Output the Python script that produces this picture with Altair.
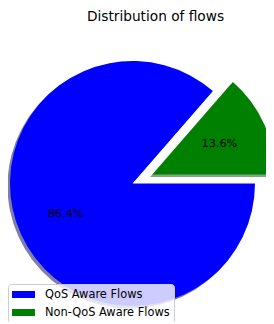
import math
import altair as alt
import pandas as pd

# ---- data ----
categories = ["QoS Aware Flows", "Non-QoS Aware Flows"]
values = [86.4, 13.6]
labels = ["86.4%", "13.6%"]
colors = ["#0000ff", "#008000"]
shadow_colors = ["#00004d", "#004d00"]
stack_order = [1, 0]
title_text = "Distribution of flows"

df = pd.DataFrame({"cat": categories, "value": values, "label": labels, "ord": stack_order})

# ---- geometry (plot coords) ----
W, H = 258, 314
cx, cy = 124.5, 175.5
R = 122.5
ex, ey = 20, -9          # explode offset of the small slice
sx, sy = -2.5, 2.5       # shadow offset
RL = 0.6 * R

start = math.radians(90 - 360 * values[1] / sum(values))
theta_scale = alt.Scale(range=[start, start + 2 * math.pi])
theta = alt.Theta("value:Q", stack=True, scale=theta_scale)
order_enc = alt.Order("ord:Q")
is_big = alt.datum.cat == categories[0]
is_small = alt.datum.cat == categories[1]

base = alt.Chart(df)

shadow_big = base.mark_arc(radius=R).encode(
    theta=theta, order=order_enc,
    x=alt.value(cx + sx), y=alt.value(cy + sy),
    color=alt.value(shadow_colors[0]),
    opacity=alt.condition(is_big, alt.value(0.5), alt.value(0)),
)
shadow_small = base.mark_arc(radius=R).encode(
    theta=theta, order=order_enc,
    x=alt.value(cx + ex + sx), y=alt.value(cy + ey + sy),
    color=alt.value(shadow_colors[1]),
    opacity=alt.condition(is_small, alt.value(0.5), alt.value(0)),
)

color_enc = alt.Color(
    "cat:N",
    scale=alt.Scale(domain=categories, range=colors),
    legend=alt.Legend(
        title=None, orient="none", legendX=0, legendY=276, direction="vertical",
        fillColor="rgba(255,255,255,0.8)", strokeColor="#cccccc", cornerRadius=3,
        padding=4, symbolType="M-1,-0.3L1,-0.3L1,0.3L-1,0.3Z", symbolSize=529,
        symbolStrokeWidth=0, symbolOpacity=1, labelFontSize=11.4, labelFont="DejaVu Sans",
        labelColor="#000000", labelOffset=10, rowPadding=5, clipHeight=13,
    ),
)

arc_big = base.mark_arc(radius=R).encode(
    theta=theta, order=order_enc,
    x=alt.value(cx), y=alt.value(cy),
    color=color_enc,
    opacity=alt.condition(is_big, alt.value(1), alt.value(0)),
)
arc_small = base.mark_arc(radius=R).encode(
    theta=theta, order=order_enc,
    x=alt.value(cx + ex), y=alt.value(cy + ey),
    color=color_enc,
    opacity=alt.condition(is_small, alt.value(1), alt.value(0)),
)

text_big = base.mark_text(radius=RL, fontSize=11.3, font="DejaVu Sans", color="#000000").encode(
    theta=theta, order=order_enc, text="label:N",
    x=alt.value(cx), y=alt.value(cy),
    opacity=alt.condition(is_big, alt.value(1), alt.value(0)),
)
text_small = base.mark_text(radius=RL, fontSize=11.3, font="DejaVu Sans", color="#000000").encode(
    theta=theta, order=order_enc, text="label:N",
    x=alt.value(cx + ex), y=alt.value(cy + ey),
    opacity=alt.condition(is_small, alt.value(1), alt.value(0)),
)

title = alt.Chart(pd.DataFrame({"t": [title_text]})).mark_text(
    fontSize=13.7, font="DejaVu Sans", color="#000000", align="center", baseline="alphabetic"
).encode(x=alt.value(147.5), y=alt.value(12.5), text="t:N")

chart = alt.layer(
    shadow_big, shadow_small, arc_big, arc_small, text_big, text_small, title
).properties(
    width=W, height=H, autosize=alt.AutoSizeParams(type="none"), padding=0
).configure_view(strokeWidth=0)

chart.save("out.html", embed_options={"renderer": "svg", "actions": False})
